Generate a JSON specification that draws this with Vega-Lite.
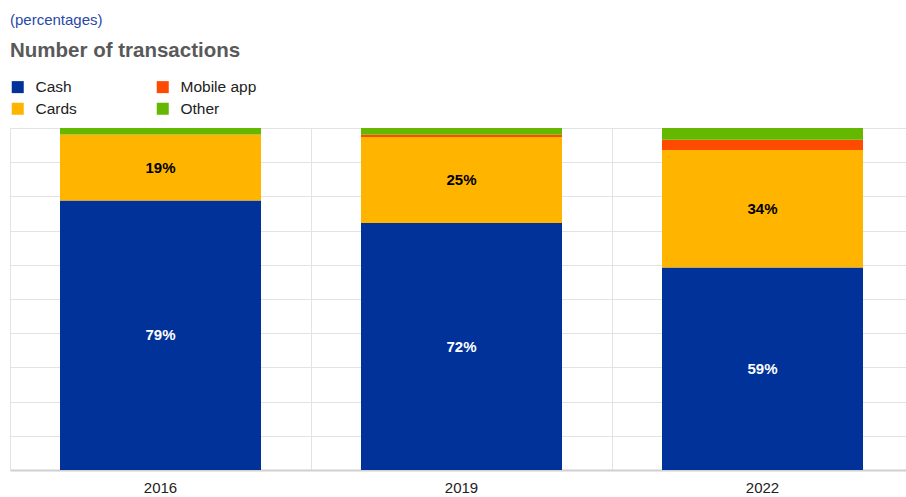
{
  "$schema": "https://vega.github.io/schema/vega-lite/v6.json",
  "autosize": "none",
  "width": 903,
  "height": 342,
  "padding": {"left": 10, "top": 128, "right": 0, "bottom": 27},
  "background": "white",
  "title": {
    "text": "(percentages)",
    "subtitle": "Number of transactions",
    "anchor": "start",
    "frame": "group",
    "font": "Liberation Sans",
    "fontSize": 15,
    "fontWeight": "normal",
    "color": "#2a47a8",
    "subtitleFont": "Liberation Sans",
    "subtitleFontSize": 20.5,
    "subtitleFontWeight": "bold",
    "subtitleColor": "#595959",
    "subtitlePadding": 13,
    "offset": 18
  },
  "data": {
    "values": [
      {"year": "2016", "cat": "Cash", "ord": 1, "value": 0.788},
      {"year": "2016", "cat": "Cards", "ord": 2, "value": 0.193},
      {"year": "2016", "cat": "Mobile app", "ord": 3, "value": 0.0},
      {"year": "2016", "cat": "Other", "ord": 4, "value": 0.019},
      {"year": "2019", "cat": "Cash", "ord": 1, "value": 0.722},
      {"year": "2019", "cat": "Cards", "ord": 2, "value": 0.252},
      {"year": "2019", "cat": "Mobile app", "ord": 3, "value": 0.006},
      {"year": "2019", "cat": "Other", "ord": 4, "value": 0.02},
      {"year": "2022", "cat": "Cash", "ord": 1, "value": 0.592},
      {"year": "2022", "cat": "Cards", "ord": 2, "value": 0.344},
      {"year": "2022", "cat": "Mobile app", "ord": 3, "value": 0.03},
      {"year": "2022", "cat": "Other", "ord": 4, "value": 0.034}
    ]
  },
  "encoding": {
    "x": {
      "field": "year",
      "type": "nominal",
      "scale": {"paddingInner": 0, "paddingOuter": 0},
      "axis": {
        "title": null,
        "labelAngle": 0,
        "ticks": false,
        "grid": true,
        "bandPosition": 0,
        "gridColor": "#e3e3e3",
        "gridWidth": 1,
        "domainColor": "#d0d0d0",
        "domainWidth": 2,
        "labelFont": "Liberation Sans",
        "labelFontSize": 15,
        "labelColor": "#222222",
        "labelPadding": 10
      }
    }
  },
  "layer": [
    {
      "mark": {"type": "bar", "width": {"band": 0.6678}},
      "encoding": {
        "y": {
          "field": "value",
          "type": "quantitative",
          "stack": "zero",
          "scale": {"domain": [0, 1], "nice": false},
          "axis": {
            "title": null,
            "labels": false,
            "ticks": false,
            "domain": false,
            "values": [0, 0.1, 0.2, 0.3, 0.4, 0.5, 0.6, 0.7, 0.8, 0.9, 1],
            "gridColor": "#e3e3e3",
            "gridWidth": 1
          }
        },
        "order": {"field": "ord", "type": "quantitative"},
        "color": {
          "field": "cat",
          "type": "nominal",
          "scale": {
            "domain": ["Cash", "Mobile app", "Cards", "Other"],
            "range": ["#003299", "#ff4b00", "#ffb400", "#65b800"]
          },
          "legend": {
            "title": null,
            "orient": "top",
            "direction": "horizontal",
            "columns": 2,
            "gridAlign": "all",
            "columnPadding": 43,
            "rowPadding": 5,
            "offset": 10,
            "symbolType": "square",
            "symbolSize": 144,
            "symbolStrokeWidth": 0,
            "labelFont": "Liberation Sans",
            "labelFontSize": 15.5,
            "labelColor": "#222222",
            "labelOffset": 10
          }
        }
      }
    },
    {
      "transform": [
        {"stack": "value", "groupby": ["year"], "sort": [{"field": "ord"}], "as": ["v0", "v1"]},
        {"calculate": "(datum.v0 + datum.v1) / 2", "as": "mid"},
        {"filter": "datum.ord <= 2"}
      ],
      "mark": {"type": "text", "font": "Liberation Sans", "fontSize": 15, "fontWeight": "bold", "baseline": "middle"},
      "encoding": {
        "y": {
          "field": "mid",
          "type": "quantitative",
          "axis": {
            "title": null,
            "labels": false,
            "ticks": false,
            "domain": false,
            "values": [0, 0.1, 0.2, 0.3, 0.4, 0.5, 0.6, 0.7, 0.8, 0.9, 1],
            "gridColor": "#e3e3e3",
            "gridWidth": 1
          }
        },
        "text": {"field": "value", "type": "quantitative", "format": ".0%"},
        "color": {"condition": {"test": "datum.cat === 'Cash'", "value": "#ffffff"}, "value": "#000000"}
      }
    }
  ],
  "config": {"view": {"stroke": null}}
}
